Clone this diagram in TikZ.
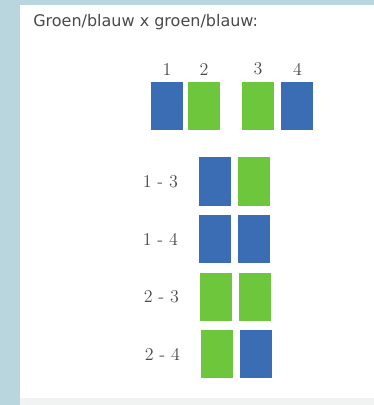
\documentclass[tikz,border=0pt]{standalone}
\usepackage{fontspec}
\setsansfont{DejaVu Sans}
\usetikzlibrary{positioning}
\usepackage{xcolor}
\definecolor{gbframe}{HTML}{B9D5DD}
\definecolor{gbfoot}{HTML}{F1F3F3}
\definecolor{gbblue}{HTML}{3B6DB4}
\definecolor{gbgreen}{HTML}{6EC63C}
\definecolor{gbtext}{HTML}{4A4A4A}

\tikzset{
  allele/.style={minimum width=24pt, minimum height=36.5pt, inner sep=0pt, draw=none},
  nr/.style={text=gbtext, font=\fontsize{13.5}{15}\selectfont},
}

\begin{document}
\begin{tikzpicture}[x=0.75pt, y=-0.75pt]
        % frame
        \fill[gbframe] (0,0) rectangle (374,405);
        \fill[gbfoot] (20,398) rectangle (374,405);
        \fill[white] (20,5) rectangle (374,398);
        \node[anchor=west, inner sep=0pt, text=gbtext, font=\sffamily\fontsize{12}{14}\selectfont] (title) at (33,22) {Groen/blauw x groen/blauw:};

        % ouders
        \node[allele, fill=gbblue] (a1) at (167,106) {};
        \node[allele, fill=gbgreen] (a2) at (204,106) {};
        \node[allele, fill=gbgreen] (a3) at (258,106) {};
        \node[allele, fill=gbblue] (a4) at (297.5,106) {};
        \foreach \i in {1,...,4}
          \node[nr, above=1pt of a\i] (n\i) {\i};

        % combinaties
        \node[allele, fill=gbblue] (c13l) at (215,181.5) {};
        \node[allele, fill=gbgreen, right=4.5pt of c13l] (c13r) {};
        \node[nr, left=12pt of c13l] (l13) {1 - 3};

        \node[allele, fill=gbblue] (c14l) at (215,239) {};
        \node[allele, fill=gbblue, right=4.5pt of c14l] (c14r) {};
        \node[nr, left=12pt of c14l] (l14) {1 - 4};

        \node[allele, fill=gbgreen] (c23l) at (216,297) {};
        \node[allele, fill=gbgreen, right=4.5pt of c23l] (c23r) {};
        \node[nr, left=12pt of c23l] (l23) {2 - 3};

        \node[allele, fill=gbgreen] (c24l) at (217,354) {};
        \node[allele, fill=gbblue, right=4.5pt of c24l] (c24r) {};
        \node[nr, left=12pt of c24l] (l24) {2 - 4};
      \end{tikzpicture}
\end{document}
